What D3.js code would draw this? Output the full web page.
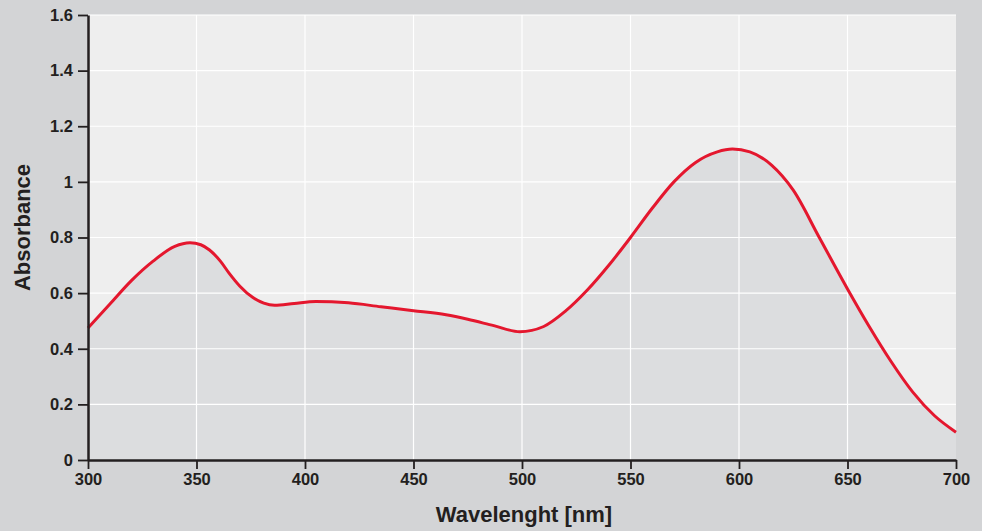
<!DOCTYPE html>
<html>
<head>
<meta charset="utf-8">
<script src="https://cdn.jsdelivr.net/npm/d3@7"></script>
<style>
  body { margin: 0; background: #d3d4d6; }
  text { font-family: 'Liberation Sans', Arial, sans-serif; font-weight: bold; fill: #231f20; }
</style>
</head>
<body>
<div id="chart"></div>
<script>
const margin = { top: 15, left: 88, right: 26, bottom: 71 }
const width = 982 - margin.left - margin.right
const height = 531 - margin.top - margin.bottom

// Data
const wavelengths = [300, 310, 320, 330, 340, 347, 352, 356, 361, 365, 370, 376, 381, 386, 395, 405, 420, 435, 450, 465, 475, 487, 499, 510, 520, 530, 540, 550, 560, 570, 580, 590, 597, 605, 615, 625, 637, 650, 660, 670, 680, 690, 700]
const absorbance = [0.475, 0.56, 0.645, 0.715, 0.768, 0.781, 0.774, 0.755, 0.715, 0.672, 0.625, 0.584, 0.564, 0.556, 0.563, 0.57, 0.565, 0.551, 0.537, 0.522, 0.506, 0.483, 0.461, 0.48, 0.535, 0.61, 0.70, 0.80, 0.905, 1.0, 1.07, 1.108, 1.118, 1.108, 1.06, 0.97, 0.80, 0.615, 0.48, 0.355, 0.245, 0.16, 0.1]
const xTicks = [300, 350, 400, 450, 500, 550, 600, 650, 700]
const yTicks = [0, 0.2, 0.4, 0.6, 0.8, 1, 1.2, 1.4, 1.6]

const datapoints = wavelengths.map((w, i) => ({ nm: w, abs: absorbance[i] }))

const svg = d3
  .select('#chart')
  .append('svg')
  .attr('width', width + margin.left + margin.right)
  .attr('height', height + margin.top + margin.bottom)
  .style('display', 'block')
  .append('g')
  .attr('transform', 'translate(' + margin.left + ',' + margin.top + ')')

// Scales
const xPositionScale = d3.scaleLinear().domain([300, 700]).range([0, width])
const yPositionScale = d3.scaleLinear().domain([0, 1.6]).range([height, 0])

// plot background
svg
  .append('rect')
  .attr('width', width)
  .attr('height', height)
  .attr('fill', '#eeeeee')

const area = d3
  .area()
  .x(d => xPositionScale(d.nm))
  .y0(height)
  .y1(d => yPositionScale(d.abs))
  .curve(d3.curveMonotoneX)

const line = d3
  .line()
  .x(d => xPositionScale(d.nm))
  .y(d => yPositionScale(d.abs))
  .curve(d3.curveMonotoneX)

svg
  .append('path')
  .datum(datapoints)
  .attr('d', area)
  .attr('fill', '#dcdddf')

// grid lines
svg
  .selectAll('.h-grid')
  .data(yTicks.slice(1))
  .enter()
  .append('line')
  .attr('x1', 0)
  .attr('x2', width)
  .attr('y1', d => yPositionScale(d))
  .attr('y2', d => yPositionScale(d))
  .attr('stroke', 'white')
  .attr('stroke-width', 1.2)

svg
  .selectAll('.v-grid')
  .data(xTicks.slice(1, -1))
  .enter()
  .append('line')
  .attr('y1', 0)
  .attr('y2', height)
  .attr('x1', d => xPositionScale(d))
  .attr('x2', d => xPositionScale(d))
  .attr('stroke', 'white')
  .attr('stroke-width', 1.2)

svg
  .append('path')
  .datum(datapoints)
  .attr('d', line)
  .attr('fill', 'none')
  .attr('stroke', '#e4172e')
  .attr('stroke-width', 3)

// Axes
const xAxis = d3
  .axisBottom(xPositionScale)
  .tickValues(xTicks)
  .tickFormat(d3.format('d'))
  .tickSizeInner(9)
  .tickSizeOuter(0)
  .tickPadding(4)

const yAxis = d3
  .axisLeft(yPositionScale)
  .tickValues(yTicks)
  .tickFormat(d => (d === 0 || d === 1 ? d3.format('d')(d) : d3.format('.1f')(d)))
  .tickSizeInner(10)
  .tickSizeOuter(0)
  .tickPadding(5)

const xg = svg
  .append('g')
  .attr('class', 'x-axis')
  .attr('transform', 'translate(0,' + height + ')')
  .call(xAxis)

const yg = svg.append('g').attr('class', 'y-axis').call(yAxis)

for (const g of [xg, yg]) {
  g.select('.domain').attr('stroke', '#231f20').attr('stroke-width', 2.5)
  g.selectAll('.tick line').attr('stroke', '#231f20').attr('stroke-width', 1.8)
  g.selectAll('.tick text')
    .attr('font-size', 16.5)
    .attr('font-family', "'Liberation Sans', Arial, sans-serif")
    .attr('font-weight', 'bold')
    .attr('fill', '#231f20')
}

// axis titles
svg
  .append('text')
  .text('Wavelenght [nm]')
  .attr('x', width / 2 + 2)
  .attr('y', height + 62)
  .attr('text-anchor', 'middle')
  .attr('font-size', 22)

svg
  .append('text')
  .text('Absorbance')
  .attr('transform', 'translate(' + -58 + ',' + (height / 2 - 10) + ') rotate(-90)')
  .attr('text-anchor', 'middle')
  .attr('font-size', 22)
</script>
</body>
</html>
